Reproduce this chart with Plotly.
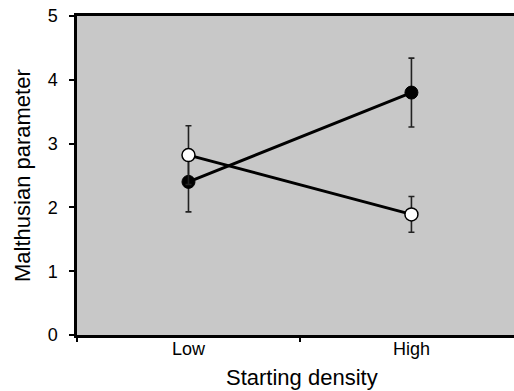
import plotly.graph_objects as go

categories = ["Low", "High"]
black_vals = [2.40, 3.80]
black_err = [0.47, 0.54]
white_vals = [2.82, 1.89]
white_err = [0.46, 0.28]
y_ticks = [0, 1, 2, 3, 4, 5]

FONT = "Liberation Sans, Arial, sans-serif"

W, H = 514, 391
L, T, B = 77, 16, 391 - 335
PH = H - T - B  # plot height in px
PW = W - L      # plot width in px


def px_x(p):
    return (p - L) / PW


def px_y(p):
    return (H - B - p) / PH


fig = go.Figure()
fig.add_trace(go.Scatter(
    x=categories, y=black_vals, mode="lines+markers",
    line=dict(color="black", width=3),
    marker=dict(size=13, color="black", line=dict(color="black", width=1)),
    error_y=dict(type="data", array=black_err, visible=True, color="#222", thickness=1.6, width=3),
    showlegend=False,
))
fig.add_trace(go.Scatter(
    x=categories, y=white_vals, mode="lines+markers",
    line=dict(color="black", width=3),
    marker=dict(size=13, color="white", line=dict(color="black", width=1.5)),
    error_y=dict(type="data", array=white_err, visible=True, color="#222", thickness=1.6, width=3),
    showlegend=False,
))

fig.update_layout(
    width=W, height=H,
    margin=dict(l=L, r=0, t=T, b=B, autoexpand=False),
    paper_bgcolor="white",
    plot_bgcolor="#c8c8c8",
    font=dict(family=FONT, color="black"),
    xaxis=dict(
        type="category", categoryorder="array", categoryarray=categories,
        range=[-0.5, 1.46], automargin=False,
        showline=True, linecolor="black", linewidth=2.5, mirror=True,
        ticks="outside", tickson="boundaries", ticklen=4, tickwidth=2, tickcolor="black",
        showgrid=False, zeroline=False,
        tickfont=dict(size=18, family=FONT),
        ticklabelstandoff=-4, ticklabeloverflow="allow",
    ),
    yaxis=dict(
        range=[0, 5], tickvals=y_ticks, automargin=False,
        showline=True, linecolor="black", linewidth=2.5, mirror=False,
        ticks="outside", ticklen=5, tickwidth=2, tickcolor="black",
        showgrid=False, zeroline=False,
        tickfont=dict(size=18, family=FONT),
        ticklabelstandoff=8, ticklabeloverflow="allow",
    ),
    annotations=[
        dict(text="Starting density", xref="paper", yref="paper",
             x=px_x(302), y=px_y(377), xanchor="center", yanchor="middle",
             showarrow=False, font=dict(size=22, family=FONT, color="black")),
        dict(text="Malthusian parameter", xref="paper", yref="paper",
             x=px_x(23), y=px_y(176), xanchor="center", yanchor="middle",
             textangle=-90, showarrow=False, font=dict(size=22, family=FONT, color="black")),
    ],
)

fig.write_html(
    "out.html",
    config={"displayModeBar": False},
    post_script="document.body.style.margin='0';document.body.style.overflow='hidden';",
)
